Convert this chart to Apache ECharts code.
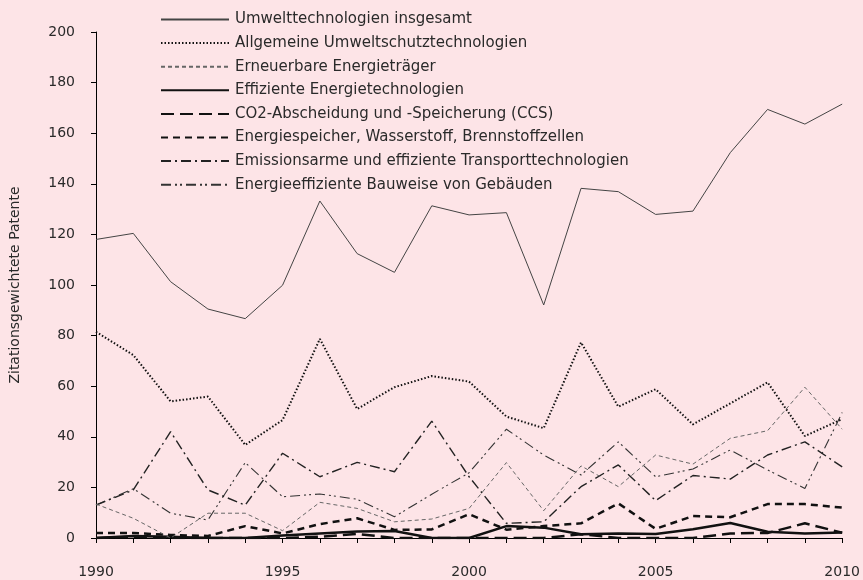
<!DOCTYPE html>
<html>
<head>
<meta charset="utf-8">
<script src="https://cdn.jsdelivr.net/npm/echarts@6/dist/echarts.min.js"></script>
<style>
html,body{margin:0;padding:0;background:#fde4e7;}
#chart{width:863px;height:580px;}
</style>
</head>
<body>
<div id="chart"></div>
<script>
const years = ['1990','1991','1992','1993','1994','1995','1996','1997','1998','1999','2000','2001','2002','2003','2004','2005','2006','2007','2008','2009','2010'];
const yTicks = [0, 20, 40, 60, 80, 100, 120, 140, 160, 180, 200];
const seriesNames = [
  'Umwelttechnologien insgesamt',
  'Allgemeine Umweltschutztechnologien',
  'Erneuerbare Energieträger',
  'Effiziente Energietechnologien',
  'CO2-Abscheidung und -Speicherung (CCS)',
  'Energiespeicher, Wasserstoff, Brennstoffzellen',
  'Emissionsarme und effiziente Transporttechnologien',
  'Energieeffiziente Bauweise von Gebäuden'
];
const total     = [118, 120.4, 101.3, 90.5, 86.7, 99.9, 133.2, 112.4, 105, 131.3, 127.7, 128.6, 92.1, 138.2, 136.9, 127.9, 129.2, 152.3, 169.4, 163.6, 171.5];
const allgemein = [81.5, 72.3, 54, 55.9, 36.8, 46.6, 78.7, 51, 59.6, 64, 61.8, 48, 43.4, 77.3, 51.9, 58.8, 44.9, 53.2, 61.5, 40.3, 47];
const erneuerbar= [13.4, 7.8, 0, 9.8, 9.8, 2.9, 14.1, 11.7, 6.4, 7.5, 11.7, 29.8, 10.8, 28.5, 20.3, 32.8, 29.2, 39.4, 42.4, 59.6, 43];
const effizient = [0, 0.8, 0.5, 0, 0, 1, 1.8, 2.6, 2.8, 0, 0, 4.7, 4.1, 1.5, 1.8, 1.6, 3.5, 5.9, 2.5, 1.8, 2.2];
const ccs       = [0, 0.5, 0, 0, 0, 0, 0.5, 1.6, 0, 0, 0, 0, 0, 1.5, 0, 0, 0, 1.8, 2, 5.8, 2.1];
const speicher  = [2, 2, 1.2, 0.8, 4.7, 1.8, 5.5, 7.8, 3.2, 3.4, 9.4, 3.3, 4.7, 5.8, 13.7, 3.6, 8.7, 8.2, 13.4, 13.4, 12];
const transport = [13, 19, 42, 19, 13, 33.5, 24.2, 29.9, 26.2, 46.2, 24.2, 5.8, 6.4, 20.3, 28.9, 14.8, 24.7, 23.3, 32.8, 38, 28.1];
const gebaeude  = [13, 19.5, 9.8, 7.1, 29.8, 16.3, 17.4, 15.3, 8.4, 17.3, 25.8, 43, 32.8, 24.9, 38, 24.2, 27.3, 34.8, 26.9, 19.6, 49.6];

const dataSets = [total, allgemein, erneuerbar, effizient, ccs, speicher, transport, gebaeude];
const styles = [
  {color:'#444444', width:1, type:'solid'},
  {color:'#111111', width:2, type:[1.5,2]},
  {color:'#666666', width:1, type:[4,3]},
  {color:'#111111', width:2.5, type:'solid'},
  {color:'#111111', width:2.5, type:[13,6]},
  {color:'#111111', width:2.5, type:[7,5]},
  {color:'#222222', width:1.4, type:[10,4,2,4]},
  {color:'#333333', width:1.1, type:[10,4,2,3,2,4]}
];

const font = 'DejaVu Sans';
const chart = echarts.init(document.getElementById('chart'), null, {renderer:'canvas'});
chart.setOption({
  backgroundColor:'#fde4e7',
  animation:false,
  textStyle:{fontFamily:font, color:'#2a2a2a'},
  grid:{left:94, right:16.5, top:32, bottom:42, containLabel:false},
  legend:{
    orient:'vertical', left:155, top:7,
    itemWidth:68, itemHeight:14, itemGap:8.6,
    padding:5,
    itemStyle:{opacity:0},
    textStyle:{fontFamily:font, fontSize:15, color:'#2a2a2a', padding:[0,0,0,1]},
    data: seriesNames
  },
  xAxis:{
    type:'category', data:years, boundaryGap:false,
    axisLine:{lineStyle:{color:'#000', width:1}},
    axisTick:{show:true, interval:0, length:5, lineStyle:{color:'#000'}},
    axisLabel:{interval:4, fontSize:14, color:'#2a2a2a', margin:27, fontFamily:font},
    splitLine:{show:false}
  },
  yAxis:{
    type:'value', min:yTicks[0], max:yTicks[yTicks.length-1], interval:yTicks[1]-yTicks[0],
    name:'Zitationsgewichtete Patente', nameLocation:'middle', nameGap:74, nameRotate:90,
    nameTextStyle:{fontSize:14, color:'#2a2a2a', fontFamily:font},
    axisLine:{show:true, lineStyle:{color:'#000', width:1}},
    axisTick:{show:true, length:5, lineStyle:{color:'#000'}},
    axisLabel:{fontSize:14, color:'#2a2a2a', margin:21, fontFamily:font},
    splitLine:{show:false}
  },
  series: seriesNames.map((n,i)=>({
    name:n, type:'line', data:dataSets[i], symbol:'none', smooth:false,
    lineStyle:{color:styles[i].color, width:styles[i].width, type:styles[i].type},
    itemStyle:{color:styles[i].color},
    z: 10 - i
  }))
});
</script>
</body>
</html>
